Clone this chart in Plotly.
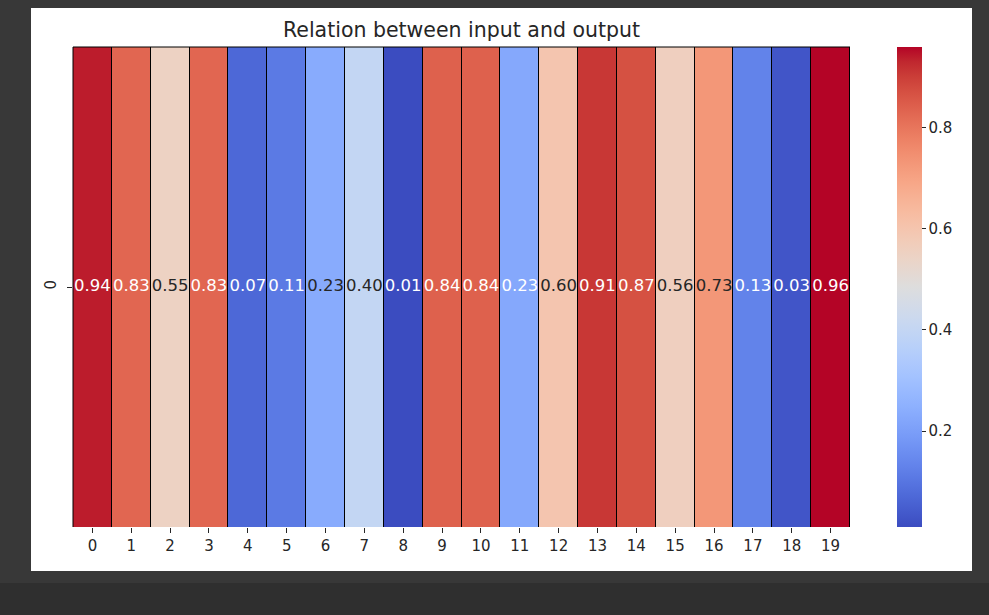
import plotly.graph_objects as go

# ---- data ----
columns = list(range(20))
row_labels = ["0"]
values = [0.94, 0.83, 0.55, 0.83, 0.07, 0.11, 0.234, 0.40, 0.01, 0.84,
          0.84, 0.226, 0.60, 0.91, 0.87, 0.56, 0.73, 0.13, 0.03, 0.96]
cbar_ticks = [0.2, 0.4, 0.6, 0.8]
title_text = "Relation between input and output"

# matplotlib "coolwarm" (Moreland) table
cw = [(59, 76, 192), (68, 90, 204), (77, 104, 215), (87, 117, 225), (98, 130, 234),
      (108, 142, 241), (119, 154, 247), (130, 165, 251), (141, 176, 254), (152, 185, 255),
      (163, 194, 255), (174, 201, 253), (184, 208, 249), (194, 213, 244), (204, 217, 238),
      (213, 219, 230), (221, 221, 221), (229, 216, 209), (236, 211, 197), (241, 204, 185),
      (245, 196, 173), (247, 187, 160), (247, 177, 148), (247, 166, 135), (244, 154, 123),
      (241, 141, 111), (236, 127, 99), (229, 112, 88), (222, 96, 77), (213, 80, 66),
      (203, 62, 56), (192, 40, 47), (180, 4, 38)]
n = len(cw) - 1
colorscale = [[i / n, "rgb(%d,%d,%d)" % c] for i, c in enumerate(cw)]

vmin, vmax = min(values), max(values)


def cmap(v):
    t = (v - vmin) / (vmax - vmin) * n
    i = min(int(t), n - 1)
    f = t - i
    return tuple(cw[i][k] + (cw[i + 1][k] - cw[i][k]) * f for k in range(3))


def lum(rgb):
    out = []
    for c in rgb:
        c = c / 255
        out.append(c / 12.92 if c <= 0.03928 else ((c + 0.055) / 1.055) ** 2.4)
    return 0.2126 * out[0] + 0.7152 * out[1] + 0.0722 * out[2]


text_colors = ["#262626" if lum(cmap(v)) > 0.408 else "#ffffff" for v in values]

fig = go.Figure()
fig.add_trace(go.Heatmap(
    z=[values], x=columns, y=[0],
    colorscale=colorscale, zmin=vmin, zmax=vmax,
    xgap=1,
    hoverinfo="skip",
    colorbar=dict(
        x=1.06, xanchor="left", xref="paper", y=0.5, yanchor="middle",
        len=1.0, lenmode="fraction", thickness=25, thicknessmode="pixels",
        xpad=0, ypad=0,
        outlinewidth=0, tickvals=cbar_ticks, ticktext=["%.1f" % t for t in cbar_ticks],
        ticks="outside", ticklen=4, tickwidth=1, tickcolor="#262626",
        tickfont=dict(family="DejaVu Sans", size=15, color="#262626"),
    ),
))
fig.add_trace(go.Scatter(
    x=columns, y=[0] * len(values), mode="text",
    text=["%.2f" % v for v in values],
    textfont=dict(family="DejaVu Sans", size=16.5, color=text_colors),
    hoverinfo="skip", showlegend=False,
))

W, H = 989, 615
L, R, T, B = 73, 850, 47, 527
pw, ph = R - L, B - T

def px(x):
    return (x - L) / pw

def py(y):
    return (B - y) / ph

white = dict(type="rect", xref="paper", yref="paper", fillcolor="#ffffff",
             line_width=0, layer="below")
fig.update_layout(
    width=W, height=H,
    margin=dict(l=L, r=W - R, t=T, b=H - B, pad=0),
    paper_bgcolor="#383838",
    plot_bgcolor="#000000",
    showlegend=False,
    title=dict(text=title_text, x=(L + R) / 2 / W, xref="container", xanchor="center",
               y=1 - 30 / H, yref="container", yanchor="middle",
               font=dict(family="DejaVu Sans", size=20.5, color="#262626")),
    xaxis=dict(range=[-0.5, 19.5], tickvals=columns, ticktext=[str(c) for c in columns],
               ticks="outside", ticklen=5, tickwidth=1, tickcolor="#262626",
               tickfont=dict(family="DejaVu Sans", size=15, color="#262626"),
               showgrid=False, zeroline=False, showline=False, fixedrange=True),
    yaxis=dict(range=[-0.5, 0.5], tickvals=[0], ticktext=row_labels, tickangle=-90,
               ticks="outside", ticklen=5, tickwidth=1, tickcolor="#262626",
               ticklabelstandoff=5,
               tickfont=dict(family="DejaVu Sans", size=15, color="#262626"),
               showgrid=False, zeroline=False, showline=False, fixedrange=True),
    shapes=[
        # white figure area around the plot area
        dict(white, x0=px(31), x1=px(972), y0=py(8), y1=1),
        dict(white, x0=px(31), x1=px(972), y0=0, y1=py(571)),
        dict(white, x0=px(31), x1=0, y0=0, y1=1),
        dict(white, x0=1, x1=px(972), y0=0, y1=1),
        dict(type="rect", xref="paper", yref="paper", x0=px(0), x1=px(989),
             y0=py(615), y1=py(583), fillcolor="#2f2f2f", line_width=0, layer="below"),
        dict(type="line", xref="paper", yref="paper", x0=0, x1=1, y0=1, y1=1,
             line=dict(color="#000000", width=1)),
        dict(type="line", xref="paper", yref="paper", x0=0, x1=0, y0=0, y1=1,
             line=dict(color="#000000", width=1)),
    ],
)

fig.write_html("out.html")
